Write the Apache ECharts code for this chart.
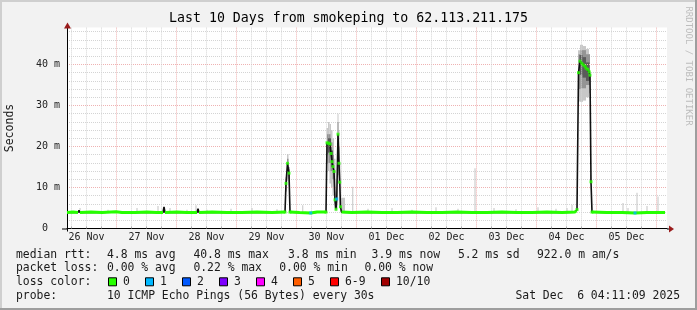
<!DOCTYPE html>
<html><head><meta charset="utf-8">
<script src="https://cdn.jsdelivr.net/npm/echarts@6/dist/echarts.min.js"></script>
<style>html,body{margin:0;padding:0;background:#f2f2f2}#c{width:697px;height:310px}</style>
</head><body><div id="c"></div><script>
// ---------- text / labels ----------
const TITLE = 'Last 10 Days from smokeping to 62.113.211.175';
const Y_NAME = 'Seconds';
const START_HOUR_OF_DAY = 4 + 11/60 + 9/3600;   // graph starts 26 Nov 04:11:09
const SPAN_HOURS = 240;
const dayLabels = ['26 Nov','27 Nov','28 Nov','29 Nov','30 Nov','01 Dec','02 Dec','03 Dec','04 Dec','05 Dec'];
const yTickValues = [0, 10, 20, 30, 40];
const yTickLabels = ['0  ', '10 m', '20 m', '30 m', '40 m'];
const Y_MAX = 49;

const rttRowLabel = 'median rtt:';
const rttStats = ['4.8 ms avg', '40.8 ms max', '3.8 ms min', '3.9 ms now', '5.2 ms sd', '922.0 m am/s'];
const lossRowLabel = 'packet loss:';
const lossStats = ['0.00 % avg', '0.22 % max', '0.00 % min', '0.00 % now'];
const colorRowLabel = 'loss color:';
const lossLegendNames = ['0', '1', '2', '3', '4', '5', '6-9', '10/10'];
const lossLegendColors = ['#26ff00', '#00b8ff', '#0059ff', '#7e00ff', '#ff00ff', '#ff5e00', '#ff0000', '#a10000'];
const probeRowLabel = 'probe:';
const probeText = '10 ICMP Echo Pings (56 Bytes) every 30s';
const stampText = 'Sat Dec  6 04:11:09 2025';
const watermark = 'RRDTOOL / TOBI OETIKER';

// ---------- data (hours since start, milliseconds) ----------
const medianHours = [0, 2.4, 4.4, 4.8, 5.2, 9.6, 14.0, 19.6, 22.0, 27.2, 32.0, 36.0, 38.4, 38.8, 39.2, 44.0, 48.0, 52.0, 52.4, 52.8,
  58.0, 64.0, 70.0, 76.0, 82.0, 87.2, 87.6, 88.2, 88.8, 89.2, 93.0, 97.5, 100.0, 103.6,
  104.0, 104.6, 105.2, 105.6, 106.0, 106.4, 106.8, 107.2, 107.6, 107.9, 108.4, 108.8, 109.1, 109.4, 109.8,
  114.0, 120.0, 126.0, 132.0, 138.0, 144.0, 150.0, 156.0, 162.0, 168.0, 174.0, 180.0, 186.0, 192.0, 198.0,
  203.2, 203.6, 204.0, 204.6, 205.2, 205.9, 206.5, 207.2, 207.6, 208.3, 208.9, 209.2, 209.6, 210.0,
  216.0, 222.0, 227.2, 232.0, 236.0, 239.2];
const medianMs = [3.9, 4.0, 3.9, 4.4, 3.9, 4.0, 3.9, 4.1, 3.9, 3.9, 4.0, 3.9, 3.9, 5.3, 3.9, 4.0, 3.9, 3.9, 4.8, 3.9,
  4.0, 3.9, 3.9, 4.0, 3.9, 4.0, 11.0, 15.9, 13.5, 4.0, 3.9, 3.8, 4.0, 4.0,
  20.9, 20.8, 20.6, 18.3, 16.3, 15.1, 13.9, 7.0, 4.7, 7.2, 23.0, 15.9, 11.3, 5.3, 4.0,
  3.9, 4.0, 3.9, 3.9, 4.0, 3.9, 3.9, 4.0, 3.9, 3.9, 4.0, 3.9, 3.9, 4.0, 3.9,
  4.0, 4.3, 4.6, 38.0, 40.8, 40.3, 39.9, 39.6, 39.1, 38.8, 38.2, 37.4, 11.4, 4.0,
  3.9, 3.9, 3.8, 3.9, 3.9, 3.9];
const medianLoss = [0,0,0,0,0,0,0,0,0,0,0,0,0,0,0,0,0,0,0,0,
  0,0,0,0,0,0,0,0,0,0,0,1,0,0,
  0,0,0,0,0,0,0,0,0,1,0,0,0,0,0,
  0,0,0,0,0,0,0,0,0,0,0,0,0,0,0,
  0,0,0,0,0,0,0,0,0,0,0,0,0,0,
  0,0,1,0,0,0];

// smoke bands: [fromHour, toHour, lowMs, highMs]
const smokeLight = [
  [87.4, 88.0, 9.0, 12.5], [88.0, 88.6, 11.5, 18.2], [88.6, 89.2, 10.5, 15.0],
  [103.8, 104.4, 16.0, 24.5], [104.4, 105.0, 14.0, 26.0], [105.0, 105.6, 11.0, 25.5], [105.6, 106.2, 10.0, 24.0],
  [106.2, 106.8, 8.0, 22.0], [106.8, 107.4, 5.0, 17.0], [107.4, 107.8, 4.2, 9.0], [107.8, 108.2, 5.0, 12.0],
  [108.2, 108.6, 15.0, 28.0], [108.6, 109.0, 11.0, 24.0], [109.0, 109.4, 6.0, 16.0], [109.4, 111.2, 4.2, 7.5],
  [204.4, 205.2, 31.0, 43.5], [205.2, 206.4, 30.9, 44.8], [206.4, 207.6, 31.2, 44.5], [207.6, 208.8, 32.0, 43.8],
  [208.8, 209.2, 33.0, 42.5], [209.2, 209.6, 10.8, 13.2]
];
const smokeMid = [
  [88.0, 88.6, 13.5, 17.0], [88.6, 89.0, 12.0, 14.5],
  [104.0, 104.6, 18.0, 23.0], [104.6, 105.4, 16.0, 23.0], [105.4, 106.2, 14.0, 21.0], [106.2, 106.8, 12.0, 18.0],
  [108.2, 108.6, 19.0, 26.0], [108.6, 109.0, 13.0, 20.0],
  [204.6, 205.4, 34.0, 42.5], [205.4, 207.6, 34.2, 43.5], [207.6, 209.2, 35.0, 42.5]
];
const smokeDark = [
  [104.4, 105.6, 18.5, 22.0], [105.6, 106.4, 15.0, 19.0],
  [205.0, 206.2, 37.5, 42.3], [206.2, 207.6, 36.8, 41.8], [207.6, 209.0, 36.0, 40.5]
];
// isolated thin smoke spikes over the baseline
const spikeHours = [5.2, 16.4, 28.0, 36.4, 41.2, 48.0, 51.6, 56.0, 65.6, 74.0, 84.0, 94.3, 114.3, 120.4, 130.0,
  138.0, 147.6, 156.4, 163.2, 170.8, 179.6, 188.4, 195.6, 200.0, 202.0, 222.4, 224.4, 228.0, 232.0, 236.4];
const spikeTops = [5.0, 4.6, 5.0, 5.5, 5.0, 4.6, 5.7, 4.6, 4.8, 5.0, 4.7, 5.7, 10.2, 4.8, 5.0,
  4.6, 5.2, 4.8, 14.7, 5.0, 4.7, 5.2, 4.8, 5.0, 5.8, 6.2, 5.0, 8.7, 5.5, 7.8];
const SPIKE_LOW = 3.8;

// ---------- derived axis helpers ----------
const MONO = '"DejaVu Sans Mono", monospace';
const noonHours = dayLabels.map((_, i) => 12 - START_HOUR_OF_DAY + 24 * i);
const midnightHours = dayLabels.map((_, i) => 24 - START_HOUR_OF_DAY + 24 * i);
const minorHours = [];
for (let j = 0; ; j++) {
  const h = 6 - START_HOUR_OF_DAY + 6 * j;
  if (h > SPAN_HOURS) break;
  if ((j + 1) % 4 !== 0) minorHours.push(h);
}
const yMinor = [];
for (let v = 2; v < Y_MAX; v += 2) if (v % 10 !== 0) yMinor.push(v);

const lossColorFor = n => n >= 10 ? lossLegendColors[7] : n >= 6 ? lossLegendColors[6] : lossLegendColors[n];

const BASE_LIMIT = 4.35, SPIKE_LIMIT = 6;
const medianPts = medianHours.map((h, i) => [h, medianMs[i]]);
const greenPts = medianHours.map((h, i) => [h, medianMs[i] < BASE_LIMIT ? medianMs[i] : null]);
const markerPts = [];
medianHours.forEach((h, i) => {
  const v = medianMs[i];
  const nearSpike = v >= SPIKE_LIMIT || (medianMs[i - 1] || 0) >= SPIKE_LIMIT || (medianMs[i + 1] || 0) >= SPIKE_LIMIT;
  if (nearSpike || medianLoss[i] > 0) markerPts.push({ value: [h, v], itemStyle: { color: lossColorFor(medianLoss[i]) } });
});
const spikeBands = spikeHours.map((h, i) => [h - 0.2, h + 0.2, SPIKE_LOW, spikeTops[i]]);

function smokeSeries(data, color, z) {
  return {
    type: 'custom', xAxisIndex: 0, yAxisIndex: 0, z, silent: true, animation: false,
    encode: { x: [0, 1], y: [2, 3] }, data,
    renderItem: (params, api) => {
      const a = api.coord([api.value(0), api.value(3)]);
      const b = api.coord([api.value(1), api.value(2)]);
      return { type: 'rect', shape: { x: a[0], y: a[1], width: Math.max(1, b[0] - a[0]), height: b[1] - a[1] },
        style: { fill: color } };
    }
  };
}

// ---------- layout constants ----------
const G_LEFT = 67, G_RIGHT = 30, G_TOP = 27.6, G_BOTTOM = 81.5;
const W = 697, H = 310;
const AXIS_Y = H - G_BOTTOM, PLOT_R = W - G_RIGHT;
const LEG_FONT = '11.4px ' + MONO;
const TXT = '#1a1a1a';
const ARROW = '#9a1c1c';

const graphics = [];
function text(str, x, y, opts = {}) {
  graphics.push(Object.assign({ type: 'text', x, y, silent: true, z: 100,
    style: { text: str, font: opts.font || LEG_FONT, fill: opts.fill || TXT,
      align: opts.align || 'left', verticalAlign: 'middle', textAlign: opts.align || 'left', textVerticalAlign: 'middle' } },
    opts.rotation !== undefined ? { rotation: opts.rotation } : {}));
}
// frame
graphics.push({ type: 'rect', shape: { x: 0, y: 0, width: W, height: 2 }, style: { fill: '#cfcfcf' }, silent: true, z: 100 });
graphics.push({ type: 'rect', shape: { x: 0, y: 0, width: 2, height: H }, style: { fill: '#cfcfcf' }, silent: true, z: 100 });
graphics.push({ type: 'rect', shape: { x: 0, y: H - 2, width: W, height: 2 }, style: { fill: '#9e9e9e' }, silent: true, z: 100 });
graphics.push({ type: 'rect', shape: { x: W - 2, y: 0, width: 2, height: H }, style: { fill: '#9e9e9e' }, silent: true, z: 100 });
// axis extensions and arrows
graphics.push({ type: 'line', shape: { x1: G_LEFT - 5, y1: AXIS_Y + 0.5, x2: G_LEFT, y2: AXIS_Y + 0.5 }, style: { stroke: '#000', lineWidth: 1 }, silent: true, z: 100 });
graphics.push({ type: 'line', shape: { x1: G_LEFT + 0.5, y1: AXIS_Y, x2: G_LEFT + 0.5, y2: AXIS_Y + 3 }, style: { stroke: '#000', lineWidth: 1 }, silent: true, z: 100 });
graphics.push({ type: 'line', shape: { x1: PLOT_R, y1: AXIS_Y + 0.5, x2: PLOT_R + 3, y2: AXIS_Y + 0.5 }, style: { stroke: '#000', lineWidth: 1 }, silent: true, z: 100 });
graphics.push({ type: 'polygon', shape: { points: [[PLOT_R + 2, AXIS_Y - 3], [PLOT_R + 7, AXIS_Y + 0.5], [PLOT_R + 2, AXIS_Y + 4]] }, style: { fill: ARROW }, silent: true, z: 100 });
graphics.push({ type: 'polygon', shape: { points: [[G_LEFT - 3, G_TOP + 1], [G_LEFT + 0.5, G_TOP - 5], [G_LEFT + 4, G_TOP + 1]] }, style: { fill: ARROW }, silent: true, z: 100 });
// title, axis name, watermark
text(TITLE, 348.5, 19, { font: '13.25px ' + MONO, align: 'center', fill: '#000' });
text(Y_NAME, 10.5, 128, { font: '11.5px ' + MONO, align: 'center', rotation: Math.PI / 2 });
text(watermark, 688, 66, { font: '9px ' + MONO, align: 'center', fill: '#bdbdbd', rotation: -Math.PI / 2 });
// legend rows
const ROW_Y = [254.7, 268.3, 282.3, 296];
const COL_X = 16, VAL_X = 107;
text(rttRowLabel, COL_X, ROW_Y[0]);
[VAL_X, 193.4, 288, 371.6, 457.9, 537].forEach((x, i) => text(rttStats[i], x, ROW_Y[0]));
text(lossRowLabel, COL_X, ROW_Y[1]);
[VAL_X, 193.4, 279.2, 364.5].forEach((x, i) => text(lossStats[i], x, ROW_Y[1]));
text(colorRowLabel, COL_X, ROW_Y[2]);
const swX = [108, 145, 182, 219, 256, 293, 330, 381];
swX.forEach((x, i) => {
  graphics.push({ type: 'rect', shape: { x: x + 0.5, y: ROW_Y[2] - 4.5, width: 8, height: 8 },
    style: { fill: lossLegendColors[i], stroke: '#000', lineWidth: 1 }, silent: true, z: 100 });
  text(lossLegendNames[i], x + 15, ROW_Y[2]);
});
text(probeRowLabel, COL_X, ROW_Y[3]);
text(probeText, VAL_X, ROW_Y[3]);
text(stampText, 680, ROW_Y[3], { align: 'right' });

const minorLine = { show: true, lineStyle: { color: '#d4d4d4', width: 1, type: [1, 1] } };
const majorLine = { show: true, lineStyle: { color: '#efb2b2', width: 1, type: [1, 1] } };

const option = {
  backgroundColor: '#f2f2f2',
  animation: false,
  grid: { left: G_LEFT, right: G_RIGHT, top: G_TOP, bottom: G_BOTTOM, show: true, backgroundColor: '#ffffff', borderWidth: 0 },
  xAxis: [
    { type: 'value', min: 0, max: SPAN_HOURS, position: 'bottom', z: 5,
      axisLine: { show: true, onZero: false, lineStyle: { color: '#000', width: 1 } },
      axisTick: { show: true, inside: true, length: 2, customValues: minorHours, lineStyle: { color: '#aaaaaa' } },
      axisLabel: { show: true, customValues: noonHours, margin: 4, color: '#222', fontFamily: MONO, fontSize: 10,
        formatter: v => dayLabels[Math.round((v - noonHours[0]) / 24)] || '' },
      splitLine: minorLine },
    { type: 'value', min: 0, max: SPAN_HOURS, position: 'top',
      axisLine: { show: false }, axisLabel: { show: false },
      axisTick: { show: false, customValues: midnightHours },
      splitLine: majorLine }
  ],
  yAxis: [
    { type: 'value', min: 0, max: Y_MAX, position: 'left', z: 5,
      axisLine: { show: true, onZero: false, lineStyle: { color: '#000', width: 1 } },
      axisTick: { show: false, customValues: yTickValues },
      axisLabel: { show: true, customValues: yTickValues, margin: 7, color: '#222', fontFamily: MONO, fontSize: 10,
        formatter: v => yTickLabels[yTickValues.indexOf(v)] },
      splitLine: majorLine },
    { type: 'value', min: 0, max: Y_MAX, position: 'right',
      axisLine: { show: false }, axisLabel: { show: false },
      axisTick: { show: false, customValues: yMinor },
      splitLine: minorLine }
  ],
  series: [
    smokeSeries(spikeBands, '#c4c4c4', 2),
    smokeSeries(smokeLight, '#c8c8c8', 2),
    smokeSeries(smokeMid, '#949494', 3),
    smokeSeries(smokeDark, '#5a5a5a', 4),
    { type: 'line', data: medianPts, showSymbol: false, z: 6, silent: true,
      lineStyle: { color: '#111', width: 1.6 } },
    { type: 'line', data: greenPts, showSymbol: false, z: 7, silent: true, connectNulls: false,
      lineStyle: { color: lossLegendColors[0], width: 3 } },
    { type: 'scatter', data: markerPts, symbol: 'rect', symbolSize: [3, 3], z: 8, silent: true }
  ],
  graphic: { elements: graphics }
};
const chart = echarts.init(document.getElementById('c'), null, { renderer: 'canvas', width: W, height: H });
chart.setOption(option);
</script></body></html>
